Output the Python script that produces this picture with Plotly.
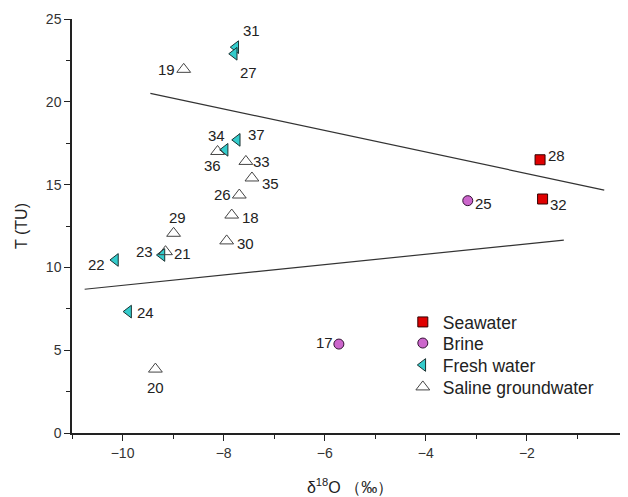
import plotly.graph_objects as go

# ---- data ----
sea_id = ["28", "32"]
sea_x = [-1.74, -1.69]
sea_y = [16.5, 14.13]

brine_id = ["25", "17"]
brine_x = [-3.17, -5.72]
brine_y = [14.03, 5.37]

fresh_id = ["31", "27", "37", "34", "23", "22", "24"]
fresh_x = [-7.76, -7.79, -7.73, -7.97, -9.22, -10.14, -9.88]
fresh_y = [23.3, 22.9, 17.7, 17.1, 10.75, 10.45, 7.33]

saline_id = ["19", "36", "33", "35", "26", "18", "29", "30", "21", "20"]
saline_x = [-8.79, -8.12, -7.56, -7.44, -7.69, -7.84, -8.99, -7.94, -9.15, -9.35]
saline_y = [21.96, 17.0, 16.4, 15.4, 14.37, 13.16, 12.06, 11.6, 10.95, 3.86]

upper_x = [-9.45, -0.47]
upper_y = [20.51, 14.67]
lower_x = [-10.75, -1.27]
lower_y = [8.68, 11.65]

x_ticks = [-10, -8, -6, -4, -2, 0]
y_ticks = [0, 5, 10, 15, 20, 25]

# ---- label offsets (pixels; style only) ----
label_off = {
    "31": (16, -17), "27": (14, 19), "19": (-17, 0), "37": (19, -5),
    "34": (-9, -14), "36": (-5, 14), "33": (16, 0), "35": (19, 6),
    "26": (-17, -1), "18": (19, 2), "29": (4, -16), "30": (19, 3),
    "21": (17, 2), "23": (-17, -3), "22": (-19, 5), "24": (17, 1),
    "20": (0, 18), "17": (-14, -2), "25": (16, 3), "28": (16, -4),
    "32": (16, 5),
}

FONT = "Liberation Sans, Arial, sans-serif"
fig = go.Figure()

for lx, ly in [(upper_x, upper_y), (lower_x, lower_y)]:
    fig.add_trace(go.Scatter(x=lx, y=ly, mode="lines", showlegend=False,
                             line=dict(color="#333333", width=1.2), hoverinfo="skip"))

fig.add_trace(go.Scatter(x=sea_x, y=sea_y, mode="markers", name="Seawater", legend="legend",
                         marker=dict(symbol="square", size=10, color="#e00000",
                                     line=dict(color="#330000", width=1))))
fig.add_trace(go.Scatter(x=brine_x, y=brine_y, mode="markers", name="Brine", legend="legend2",
                         marker=dict(symbol="circle", size=10, color="#cc66cc",
                                     line=dict(color="#331133", width=1))))
fig.add_trace(go.Scatter(x=fresh_x, y=fresh_y, mode="markers", name="Fresh water", legend="legend3",
                         marker=dict(symbol="triangle-left", size=11, color="#33cccc",
                                     line=dict(color="#1a3333", width=1))))
fig.add_trace(go.Scatter(x=saline_x, y=saline_y, mode="markers", name="Saline groundwater",
                         legend="legend4",
                         marker=dict(symbol="triangle-up-open", size=12, color="#444444",
                                     line=dict(width=1))))

ann = []
for ids, xs, ys in [(sea_id, sea_x, sea_y), (brine_id, brine_x, brine_y),
                    (fresh_id, fresh_x, fresh_y), (saline_id, saline_x, saline_y)]:
    for i, x, y in zip(ids, xs, ys):
        dx, dy = label_off[i]
        ann.append(dict(x=x, y=y, text=i, showarrow=False, xshift=dx, yshift=-dy,
                        font=dict(family=FONT, size=15, color="#222222")))


def leg(ypos):
    return dict(x=0.595, y=ypos, xanchor="left", yanchor="middle",
                bgcolor="rgba(0,0,0,0)", borderwidth=0,
                font=dict(family=FONT, size=17.5, color="#222222"),
                itemsizing="trace")


# the page body adds an 8px margin, so the figure margins compensate for it
fig.update_layout(
    width=628, height=497,
    margin=dict(l=64, r=8, t=11, b=72),
    paper_bgcolor="white", plot_bgcolor="white",
    font=dict(family=FONT, color="#222222"),
    annotations=ann,
    legend=leg(0.268), legend2=leg(0.217), legend3=leg(0.164), legend4=leg(0.111),
    xaxis=dict(range=[-11, 0], tickvals=x_ticks, ticks="outside", ticklen=6,
               tickwidth=1.2, tickcolor="#222", showline=True, linecolor="#222",
               linewidth=1.5, showgrid=False, zeroline=False, automargin=False,
               tickfont=dict(size=14, color="#333333"),
               minor=dict(ticks="outside", dtick=1, ticklen=4, tickcolor="#222", showgrid=False),
               title=dict(text="δ<sup>18</sup>O （‰）", font=dict(size=16), standoff=22)),
    yaxis=dict(range=[0, 25], tickvals=y_ticks, ticks="outside", ticklen=6,
               tickwidth=1.2, tickcolor="#222", showline=True, linecolor="#222",
               linewidth=1.5, showgrid=False, zeroline=False, automargin=False,
               tickfont=dict(size=14, color="#333333"),
               minor=dict(ticks="outside", dtick=2.5, ticklen=4, tickcolor="#222", showgrid=False),
               title=dict(text="T (TU)", font=dict(size=16), standoff=14)),
)

fig.write_html("out.html")
